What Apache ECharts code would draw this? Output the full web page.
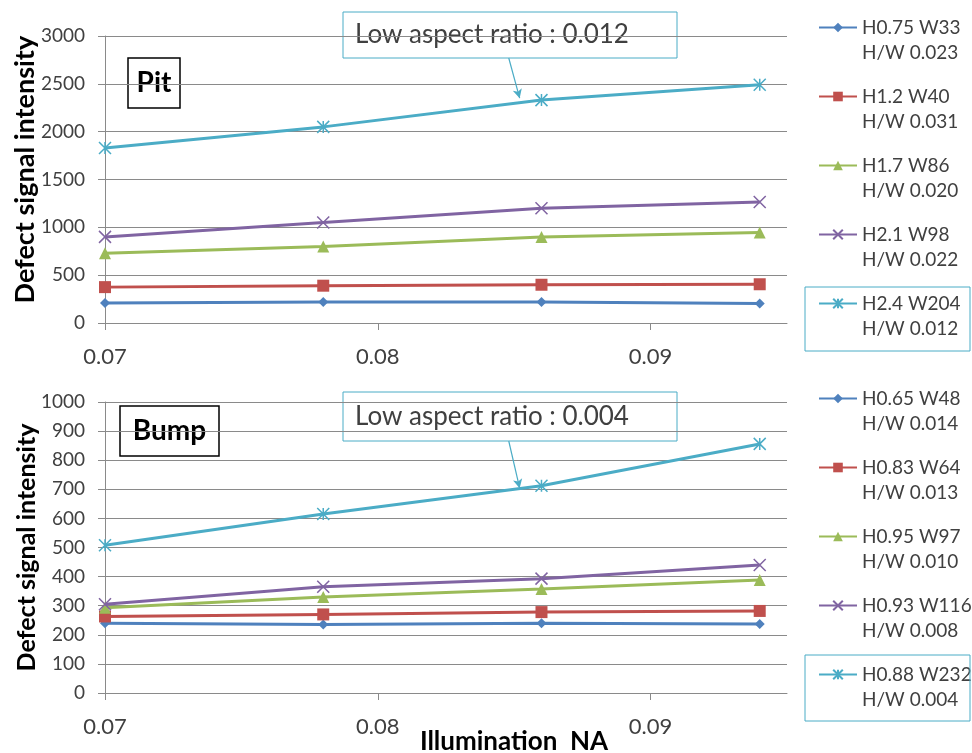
<!DOCTYPE html>
<html>
<head>
<meta charset="utf-8">
<script src="https://cdn.jsdelivr.net/npm/echarts@6/dist/echarts.min.js"></script>
<style>
  html, body { margin: 0; padding: 0; background: #fff; }
  #chart { width: 972px; height: 753px; }
</style>
</head>
<body>
<div id="chart"></div>
<script>
// illumination NA of the 4 measurements
var naValues = [0.07, 0.078, 0.086, 0.094];
var xTicks = [0.07, 0.08, 0.09];

// Pit (top chart)
var pitNames = ['H0.75 W33\nH/W 0.023', 'H1.2 W40\nH/W 0.031', 'H1.7 W86\nH/W 0.020', 'H2.1 W98\nH/W 0.022', 'H2.4 W204\nH/W 0.012'];
var pitH075 = [210, 220, 220, 205];
var pitH12 = [375, 390, 400, 405];
var pitH17 = [730, 800, 900, 945];
var pitH21 = [900, 1050, 1200, 1265];
var pitH24 = [1830, 2050, 2330, 2490];

// Bump (bottom chart)
var bumpNames = ['H0.65 W48\nH/W 0.014', 'H0.83 W64\nH/W 0.013', 'H0.95 W97\nH/W 0.010', 'H0.93 W116\nH/W 0.008', 'H0.88 W232\nH/W 0.004'];
var bumpH065 = [240, 235, 240, 237];
var bumpH083 = [263, 270, 278, 282];
var bumpH095 = [293, 330, 357, 388];
var bumpH093 = [305, 365, 393, 440];
var bumpH088 = [508, 615, 712, 856];

var colors = ['#4F81BD', '#C0504D', '#9BBB59', '#8064A2', '#4BACC6'];
var FONT = 'Lato, "Liberation Sans", sans-serif';
var TXT = '#404040';
var GRIDC = '#8a8a8a';

var xSymbol = 'path://M0 0 L10 10 M10 0 L0 10';
var starSymbol = 'path://M5 0 L5 10 M0 0 L10 10 M10 0 L0 10';
var symbols = ['diamond', 'rect', 'triangle', xSymbol, starSymbol];
var symSizes = [10, 12, 12, 12, 12];

function pairs(vals) {
	var out = [];
	for (var i = 0; i < vals.length; i++) {
		out.push([naValues[i], vals[i]]);
	}
	return out;
}

function mkSeries(name, vals, idx, axisIdx) {
	return {
		name: name,
		type: 'line',
		xAxisIndex: axisIdx,
		yAxisIndex: axisIdx,
		data: pairs(vals),
		symbol: symbols[idx],
		symbolSize: symSizes[idx],
		showAllSymbol: true,
		lineStyle: { color: colors[idx], width: 3 },
		itemStyle: { color: colors[idx], borderColor: colors[idx], borderWidth: idx >= 3 ? 1.5 : 0 },
		emphasis: { disabled: true },
		z: 3 + idx
	};
}

function arrowLine(from, to) {
	return {
		silent: true,
		symbol: ['none', 'arrow'],
		symbolSize: [7, 9],
		label: { show: false },
		lineStyle: { color: '#4BACC6', width: 1.2, type: 'solid' },
		data: [[{ coord: from }, { coord: to }]]
	};
}

function xAxisCfg(gridIdx, labelMargin) {
	return {
		type: 'value',
		gridIndex: gridIdx,
		min: 0.07,
		max: 0.095,
		interval: 0.01,
		axisLine: { show: true, onZero: false, lineStyle: { color: GRIDC, width: 1 } },
		axisTick: { show: true, length: 7, lineStyle: { color: GRIDC } },
		splitLine: { show: false },
		axisLabel: {
			showMaxLabel: false,
			margin: labelMargin,
			color: TXT,
			fontFamily: FONT,
			fontSize: 22,
			formatter: function (v) {
				var r = Math.round(v * 100) / 100;
				return xTicks.indexOf(r) >= 0 ? r.toFixed(2) : '';
			}
		}
	};
}

function yAxisCfg(gridIdx, max, interval, name, nameSize) {
	return {
		type: 'value',
		gridIndex: gridIdx,
		min: 0,
		max: max,
		interval: interval,
		name: name,
		nameLocation: 'middle',
		nameGap: 66,
		nameMoveOverlap: false,
		nameTextStyle: { color: '#000', fontFamily: FONT, fontWeight: 'bold', fontSize: nameSize },
		axisLine: { show: true, lineStyle: { color: GRIDC, width: 1 } },
		axisTick: { show: true, length: 7, lineStyle: { color: GRIDC } },
		splitLine: { show: true, lineStyle: { color: GRIDC, width: 1 } },
		axisLabel: {
			margin: 20, color: TXT, fontFamily: FONT, fontSize: 19,
			formatter: function (v) { return String(v); }
		}
	};
}

function legendCfg(names, top) {
	return {
		data: names,
		orient: 'vertical',
		left: 818,
		top: top,
		padding: 0,
		itemGap: -6,
		itemWidth: 38,
		itemHeight: 12,
		selectedMode: false,
		// blank first line so the icon sits beside the first text line
		formatter: function (name) { return '\n' + name; },
		textStyle: { color: TXT, fontFamily: FONT, fontSize: 19, lineHeight: 25 }
	};
}

function noteBox(x, y, w, h, text) {
	return {
		type: 'group',
		z: 100,
		children: [
			{ type: 'rect', shape: { x: x, y: y, width: w, height: h }, style: { fill: '#fff', stroke: '#4BACC6', lineWidth: 1 } },
			{ type: 'text', x: x + 12, y: y + h / 2, style: { text: text, fill: TXT, font: '26px ' + FONT, verticalAlign: 'middle' } }
		]
	};
}

function labelBox(x, y, w, h, text) {
	return {
		type: 'group',
		z: 100,
		children: [
			{ type: 'rect', shape: { x: x, y: y, width: w, height: h }, style: { fill: '#fff', stroke: '#000', lineWidth: 1.5 } },
			{ type: 'text', x: x + w / 2, y: y + h / 2, style: { text: text, fill: '#000', font: 'bold 28px ' + FONT, align: 'center', verticalAlign: 'middle' } }
		]
	};
}

function hiliteBox(x, y, w, h) {
	return { type: 'rect', z: 100, shape: { x: x, y: y, width: w, height: h }, style: { fill: 'none', stroke: '#4BACC6', lineWidth: 1 } };
}

var pitSeries = [
	mkSeries(pitNames[0], pitH075, 0, 0),
	mkSeries(pitNames[1], pitH12, 1, 0),
	mkSeries(pitNames[2], pitH17, 2, 0),
	mkSeries(pitNames[3], pitH21, 3, 0),
	mkSeries(pitNames[4], pitH24, 4, 0)
];
pitSeries[4].markLine = arrowLine([0.0848, 2770], [0.0852, 2350]);

var bumpSeries = [
	mkSeries(bumpNames[0], bumpH065, 0, 1),
	mkSeries(bumpNames[1], bumpH083, 1, 1),
	mkSeries(bumpNames[2], bumpH095, 2, 1),
	mkSeries(bumpNames[3], bumpH093, 3, 1),
	mkSeries(bumpNames[4], bumpH088, 4, 1)
];
bumpSeries[4].markLine = arrowLine([0.0848, 866], [0.0852, 704]);

var dom = document.getElementById('chart');
var myChart = echarts.init(dom, null, { renderer: 'canvas' });
var option = {
	backgroundColor: '#fff',
	animation: false,
	textStyle: { fontFamily: FONT },
	grid: [
		{ left: 105, top: 36, width: 682, height: 287, outerBoundsMode: 'none' },
		{ left: 105, top: 402, width: 682, height: 291, outerBoundsMode: 'none' }
	],
	xAxis: [
		xAxisCfg(0, 23),
		Object.assign(xAxisCfg(1, 23), {
			name: 'Illumination  NA',
			nameLocation: 'middle',
			nameGap: 36,
			nameMoveOverlap: false,
			nameTextStyle: { color: '#000', fontFamily: FONT, fontWeight: 'bold', fontSize: 26, padding: [0, 0, 0, 136] }
		})
	],
	yAxis: [
		// leading spaces lift the top title a little, as in the original
		yAxisCfg(0, 3000, 500, '   Defect signal intensity', 27),
		yAxisCfg(1, 1000, 100, 'Defect signal intensity', 25)
	],
	legend: [
		legendCfg(pitNames, -10),
		legendCfg(bumpNames, 361)
	],
	series: pitSeries.concat(bumpSeries),
	graphic: [
		labelBox(128, 58, 52, 50, 'Pit'),
		labelBox(120, 406, 99, 50, 'Bump'),
		noteBox(343, 12, 334, 46, 'Low aspect ratio : 0.012'),
		noteBox(343, 392, 334, 49, 'Low aspect ratio : 0.004'),
		hiliteBox(805, 287, 165, 64),
		hiliteBox(805, 655, 165, 66)
	]
};
myChart.setOption(option, true);
</script>
</body>
</html>
